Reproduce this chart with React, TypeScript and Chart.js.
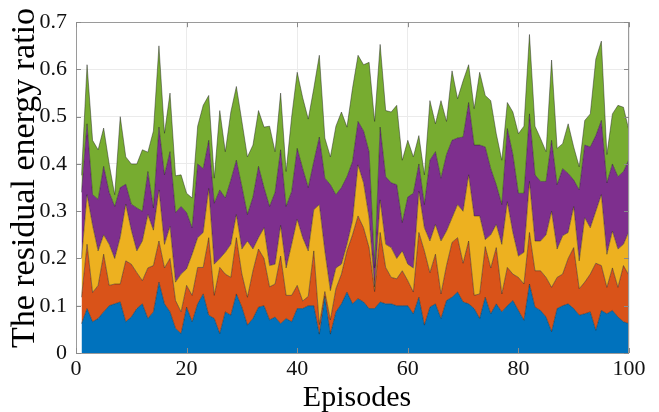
import React, { useEffect, useRef } from 'react';
import { Chart, registerables } from 'chart.js';

Chart.register(...registerables);

const episodes: number[] = Array.from({ length: 100 }, (_, i) => i + 1);
const xTicks = [0, 20, 40, 60, 80, 100];
const yTicks = [0, 0.1, 0.2, 0.3, 0.4, 0.5, 0.6, 0.7];
const xTitle = 'Episodes';
const yTitle = 'The residual energy ratio';

// Upper boundary of each stacked layer
const blueTop = [
  0.062, 0.094, 0.066, 0.073, 0.087, 0.100, 0.104, 0.108, 0.066, 0.076,
  0.094, 0.104, 0.073, 0.087, 0.150, 0.104, 0.087, 0.052, 0.041, 0.097,
  0.066, 0.104, 0.125, 0.080, 0.073, 0.041, 0.087, 0.080, 0.125, 0.097,
  0.059, 0.073, 0.097, 0.100, 0.070, 0.076, 0.062, 0.073, 0.066, 0.094,
  0.094, 0.100, 0.100, 0.040, 0.120, 0.040, 0.087, 0.104, 0.129, 0.104,
  0.115, 0.108, 0.094, 0.094, 0.108, 0.104, 0.104, 0.100, 0.100, 0.100,
  0.083, 0.118, 0.059, 0.097, 0.104, 0.073, 0.111, 0.118, 0.129, 0.108,
  0.104, 0.094, 0.073, 0.118, 0.083, 0.104, 0.087, 0.100, 0.111, 0.090,
  0.069, 0.146, 0.097, 0.090, 0.076, 0.045, 0.094, 0.100, 0.104, 0.094,
  0.080, 0.083, 0.087, 0.048, 0.090, 0.083, 0.090, 0.076, 0.066, 0.062,
];

const orangeTop = [
  0.118, 0.230, 0.128, 0.143, 0.209, 0.143, 0.146, 0.146, 0.195, 0.188,
  0.170, 0.153, 0.180, 0.185, 0.237, 0.180, 0.200, 0.111, 0.087, 0.143,
  0.122, 0.181, 0.181, 0.244, 0.122, 0.181, 0.167, 0.160, 0.244, 0.167,
  0.118, 0.174, 0.220, 0.200, 0.140, 0.146, 0.205, 0.122, 0.122, 0.143,
  0.110, 0.120, 0.216, 0.060, 0.130, 0.070, 0.136, 0.167, 0.216, 0.250,
  0.290, 0.265, 0.223, 0.130, 0.255, 0.181, 0.160, 0.157, 0.174, 0.153,
  0.129, 0.255, 0.216, 0.170, 0.209, 0.125, 0.185, 0.234, 0.244, 0.190,
  0.237, 0.122, 0.125, 0.225, 0.180, 0.223, 0.125, 0.181, 0.167, 0.160,
  0.146, 0.255, 0.174, 0.174, 0.160, 0.139, 0.160, 0.167, 0.200, 0.223,
  0.136, 0.150, 0.167, 0.190, 0.185, 0.139, 0.180, 0.139, 0.185, 0.164,
];

const yellowTop = [
  0.200, 0.335, 0.270, 0.216, 0.250, 0.230, 0.200, 0.245, 0.315, 0.260,
  0.216, 0.237, 0.293, 0.260, 0.345, 0.230, 0.268, 0.150, 0.167, 0.178,
  0.209, 0.244, 0.255, 0.348, 0.188, 0.200, 0.213, 0.230, 0.293, 0.220,
  0.237, 0.220, 0.244, 0.265, 0.185, 0.188, 0.270, 0.180, 0.230, 0.283,
  0.244, 0.216, 0.303, 0.314, 0.216, 0.132, 0.180, 0.188, 0.230, 0.280,
  0.398, 0.360, 0.286, 0.140, 0.324, 0.230, 0.223, 0.200, 0.216, 0.188,
  0.180, 0.342, 0.265, 0.237, 0.272, 0.237, 0.258, 0.286, 0.314, 0.300,
  0.377, 0.290, 0.290, 0.240, 0.250, 0.272, 0.230, 0.320, 0.255, 0.205,
  0.213, 0.363, 0.237, 0.237, 0.250, 0.300, 0.220, 0.248, 0.255, 0.310,
  0.195, 0.286, 0.265, 0.300, 0.335, 0.209, 0.258, 0.220, 0.230, 0.258,
];

const purpleTop = [
  0.340, 0.485, 0.335, 0.325, 0.395, 0.340, 0.310, 0.350, 0.357, 0.315,
  0.307, 0.300, 0.384, 0.307, 0.478, 0.377, 0.426, 0.297, 0.310, 0.297,
  0.265, 0.400, 0.390, 0.450, 0.317, 0.345, 0.328, 0.366, 0.408, 0.352,
  0.293, 0.330, 0.395, 0.350, 0.310, 0.340, 0.430, 0.310, 0.342, 0.433,
  0.390, 0.350, 0.405, 0.457, 0.370, 0.356, 0.335, 0.350, 0.373, 0.405,
  0.490, 0.470, 0.426, 0.180, 0.478, 0.373, 0.360, 0.356, 0.276, 0.330,
  0.338, 0.400, 0.314, 0.408, 0.426, 0.370, 0.420, 0.450, 0.455, 0.457,
  0.530, 0.440, 0.440, 0.436, 0.390, 0.356, 0.314, 0.475, 0.420, 0.338,
  0.338, 0.506, 0.377, 0.363, 0.363, 0.450, 0.356, 0.390, 0.380, 0.366,
  0.345, 0.440, 0.436, 0.460, 0.492, 0.360, 0.400, 0.373, 0.384, 0.410,
];

const greenTop = [
  0.376, 0.610, 0.450, 0.430, 0.476, 0.400, 0.335, 0.500, 0.415, 0.400,
  0.400, 0.430, 0.425, 0.470, 0.650, 0.465, 0.550, 0.375, 0.377, 0.338,
  0.328, 0.480, 0.524, 0.545, 0.370, 0.513, 0.426, 0.510, 0.564, 0.490,
  0.415, 0.440, 0.513, 0.478, 0.480, 0.426, 0.550, 0.384, 0.500, 0.594,
  0.540, 0.495, 0.560, 0.630, 0.455, 0.415, 0.480, 0.510, 0.478, 0.560,
  0.630, 0.610, 0.615, 0.490, 0.653, 0.513, 0.510, 0.524, 0.408, 0.450,
  0.415, 0.460, 0.377, 0.534, 0.485, 0.534, 0.490, 0.597, 0.538, 0.576,
  0.610, 0.517, 0.594, 0.545, 0.534, 0.464, 0.408, 0.530, 0.510, 0.464,
  0.480, 0.674, 0.480, 0.454, 0.426, 0.620, 0.433, 0.443, 0.485, 0.436,
  0.394, 0.492, 0.506, 0.622, 0.660, 0.420, 0.506, 0.524, 0.520, 0.470,
];

const layerNames = ['Layer 1', 'Layer 2', 'Layer 3', 'Layer 4', 'Layer 5'];
const layerTops = [blueTop, orangeTop, yellowTop, purpleTop, greenTop];
const layerColors = ['#0072BD', '#D95319', '#EDB120', '#7E2F8E', '#77AC30'];

const FONT = "'Liberation Serif', 'Times New Roman', serif";

export default function App() {
  const ref = useRef<HTMLCanvasElement>(null);

  useEffect(() => {
    if (!ref.current) return;

    const boxPlugin = {
      id: 'matlabBox',
      afterDraw(chart: any) {
        const { ctx, chartArea: a, scales } = chart;
        ctx.save();
        ctx.strokeStyle = '#9a9a9a';
        ctx.lineWidth = 1;
        ctx.strokeRect(Math.round(a.left) + 0.5, Math.round(a.top) + 0.5,
          Math.round(a.right - a.left) - 1, Math.round(a.bottom - a.top));
        ctx.strokeStyle = '#8a8a8a';
        const tl = 5;
        ctx.beginPath();
        for (const v of xTicks) {
          const x = Math.round(scales.x.getPixelForValue(v)) + 0.5;
          ctx.moveTo(x, a.bottom); ctx.lineTo(x, a.bottom - tl);
          ctx.moveTo(x, a.top); ctx.lineTo(x, a.top + tl);
        }
        for (const v of yTicks) {
          const y = Math.round(scales.y.getPixelForValue(v)) + 0.5;
          ctx.moveTo(a.left, y); ctx.lineTo(a.left + tl, y);
          ctx.moveTo(a.right, y); ctx.lineTo(a.right - tl, y);
        }
        ctx.stroke();

        // axis titles
        ctx.fillStyle = '#000';
        ctx.textAlign = 'center';
        ctx.textBaseline = 'alphabetic';
        ctx.font = `30px ${FONT}`;
        ctx.fillText(xTitle, 357, 406);
        ctx.font = `34px ${FONT}`;
        ctx.translate(34, 178);
        ctx.rotate(-Math.PI / 2);
        ctx.fillText(yTitle, 0, 0);
        ctx.restore();
      },
    };

    const chart = new Chart(ref.current, {
      type: 'line',
      data: {
        datasets: layerTops.map((tops, k) => ({
          label: layerNames[k],
          data: episodes.map((e, i) => ({ x: e, y: tops[i] })),
          backgroundColor: layerColors[k],
          borderColor: 'rgba(30,30,30,0.75)',
          borderWidth: 0.6,
          pointRadius: 0,
          tension: 0,
          fill: k === 0 ? 'origin' : '-1',
        })),
      },
      options: {
        responsive: false,
        animation: false,
        devicePixelRatio: 1,
        layout: { padding: { top: 19, right: 30, left: 0, bottom: 0 } },
        plugins: {
          legend: { display: false },
          tooltip: { enabled: false },
          title: { display: false },
        },
        scales: {
          x: {
            type: 'linear',
            min: 0,
            max: 100,
            afterBuildTicks: (axis: any) => {
              axis.ticks = xTicks.map((v) => ({ value: v }));
            },
            afterFit: (s: any) => { s.height = 59; },
            grid: { color: '#ebebeb', drawTicks: false },
            border: { display: false },
            ticks: {
              color: '#111',
              font: { family: FONT, size: 22 },
              padding: 3,
              maxRotation: 0,
              callback: (v: any) => String(v),
            },
            title: { display: false },
          },
          y: {
            type: 'linear',
            min: 0,
            max: 0.7,
            afterBuildTicks: (axis: any) => {
              axis.ticks = yTicks.map((v) => ({ value: v }));
            },
            afterFit: (s: any) => { s.width = 76; },
            grid: { color: '#ebebeb', drawTicks: false },
            border: { display: false },
            ticks: {
              color: '#111',
              font: { family: FONT, size: 22 },
              padding: 9,
              callback: (v: any) => String(Math.round(v * 10) / 10),
            },
            title: { display: false },
          },
        },
      },
      plugins: [boxPlugin],
    } as any);

    return () => chart.destroy();
  }, []);

  return (
    <div style={{ position: 'absolute', left: 0, top: 0, width: 659, height: 412, background: '#fff' }}>
      <canvas ref={ref} width={659} height={412} style={{ width: 659, height: 412, display: 'block' }} />
    </div>
  );
}
